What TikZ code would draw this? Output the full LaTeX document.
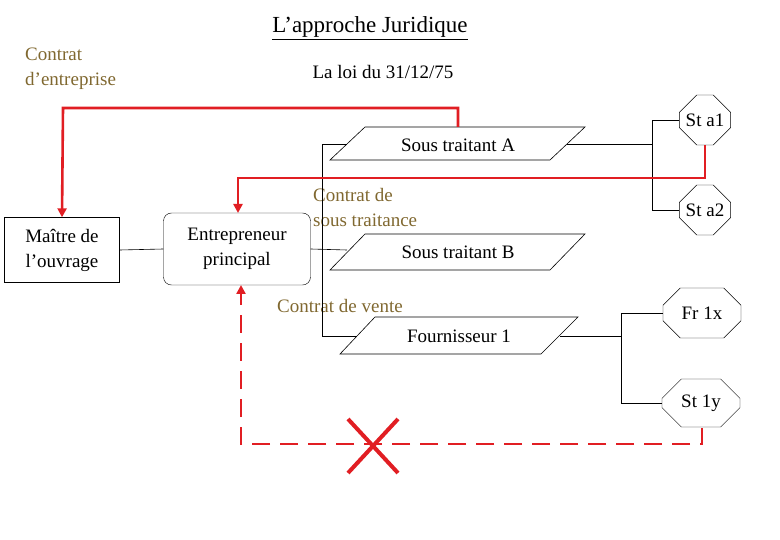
\documentclass[tikz,border=0pt]{standalone}
\usepackage{fontspec}
\setmainfont{Liberation Serif}
\usetikzlibrary{shapes.misc,arrows.meta,calc}
\definecolor{ol}{RGB}{128,104,48}
\definecolor{rd}{RGB}{225,30,35}
\begin{document}
\begin{tikzpicture}[x=1pt,y=-1pt,font=\fontsize{19}{25}\selectfont,
  box/.style={draw,align=center,inner sep=0pt},
  oct/.style={draw,chamfered rectangle,chamfered rectangle corners={north east,north west,south east,south west},chamfered rectangle xsep=11pt,chamfered rectangle ysep=11pt,inner sep=0pt},
  lab/.style={text=ol,align=left,anchor=west,inner sep=0pt},
  rl/.style={draw=rd,line width=2.6pt},
  thin/.style={draw,line width=0.6pt}]
\useasboundingbox (0,0) rectangle (780,540);
\node (title) at (370,28) {\fontsize{23}{26}\selectfont\underline{L’approche Juridique}};
\node (loi) at (383,72) {La loi du 31/12/75};
\node[lab] (ce) at (25,69) {Contrat\\d’entreprise};
\node[box,minimum width=115,minimum height=65] (mo) at (62,250) {Maître de\\l’ouvrage};
\node[box,rounded corners=8pt,minimum width=147,minimum height=72] (ep) at (237,249) {Entrepreneur\\principal};
% parallelograms
\draw[thin,fill=white] (330,160) -- (365,127) -- (585,127) -- (550,160) -- cycle;
\node (sa) at (458,145) {Sous traitant A};
\draw[thin,fill=white] (330,270) -- (365,234) -- (585,234) -- (550,270) -- cycle;
\node (sb) at (458,252) {Sous traitant B};
\draw[thin,fill=white] (340,354) -- (375,317) -- (578,317) -- (541,354) -- cycle;
\node (f1) at (459,336) {Fournisseur 1};
% octagons
\node[oct,minimum width=50,minimum height=50] (a1) at (705,120) {St a1};
\node[oct,minimum width=50,minimum height=50] (a2) at (705,210) {St a2};
\node[oct,minimum width=78,minimum height=50] (fx) at (702,313) {Fr 1x};
\node[oct,minimum width=78,minimum height=48] (sy) at (701,403) {St 1y};
% labels
\node[lab] (cst) at (313,208) {Contrat de\\sous traitance};
\node[lab] (cv) at (277,306) {Contrat de vente};
% thin connectors
\draw[thin] (mo.east) -- (ep.west);
\draw[thin] (ep.east) -- (347,250);
\draw[thin] (347,144) -- (322,144) -- (322,336) -- (357,336);
\draw[thin] (567,144) -- (652,144);
\draw[thin] (a1.west) -- (652,120) -- (652,210) -- (a2.west);
\draw[thin] (560,336) -- (621,336);
\draw[thin] (fx.west) -- (621,313) -- (621,403) -- (sy.west);
% red
\draw[rl,-{Triangle[length=9pt,width=9pt]}] (458,127) -- (458,108) -- (63,108) -- (mo.north);
\draw[rl,-{Triangle[length=9pt,width=9pt]}] (a1.south) -- (705,178) -- (238,178) -- (238,213);
\draw[rl,dash pattern=on 18pt off 10pt,-{Triangle[length=9pt,width=9pt]}] (702,428) -- (702,444) -- (241,444) -- (241,285);
\coordinate (x) at (373,446);
\draw[draw=rd,line width=4pt] ($(x)+(-25,-27)$) -- ($(x)+(25,27)$) ($(x)+(25,-27)$) -- ($(x)+(-25,27)$);
\end{tikzpicture}
\end{document}
